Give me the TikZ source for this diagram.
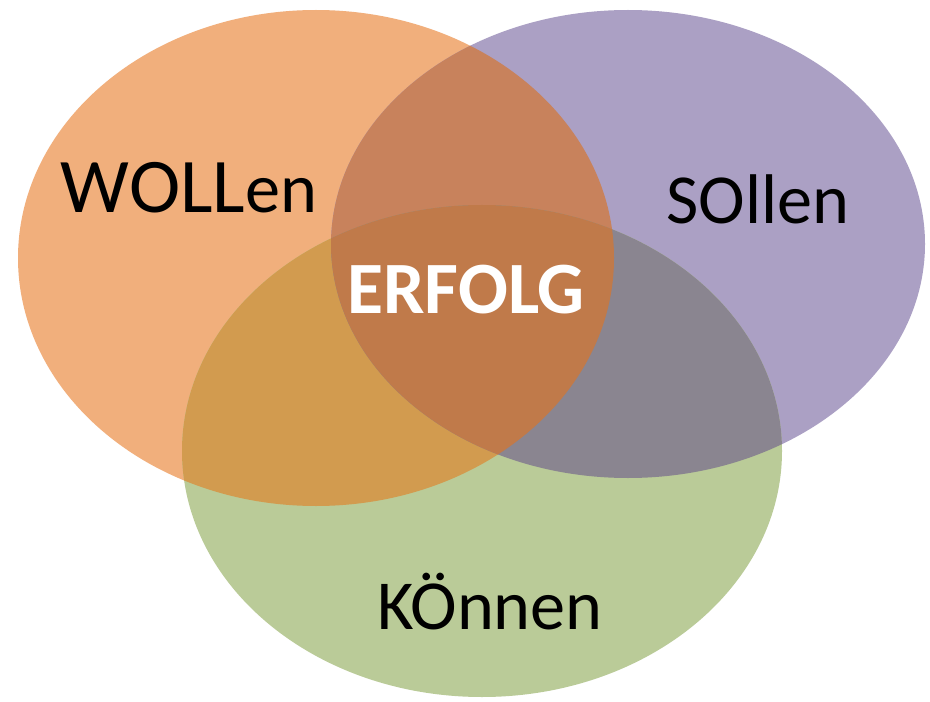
\documentclass[tikz,border=0pt]{standalone}
\usepackage{fontspec}
\setmainfont{Carlito}
\definecolor{wollen}{HTML}{F1AF7C}
\definecolor{sollen}{HTML}{ABA0C4}
\definecolor{koennen}{HTML}{BACB98}
\definecolor{wollsoll}{HTML}{C8825C}
\definecolor{wollkoenn}{HTML}{D29B4F}
\definecolor{sollkoenn}{HTML}{8A8590}
\definecolor{erfolg}{HTML}{C07A4A}
\tikzset{
  label/.style={font=\fontsize{40}{40}\selectfont, anchor=base, inner sep=0pt},
}
\begin{document}
\begin{tikzpicture}[x=0.02cm,y=0.02cm]
\useasboundingbox (0,0) rectangle (930,701);
\fill[white] (0,0) rectangle (930,701);
% the three sets
\fill[wollen] (316,443) ellipse [x radius=298, y radius=248];
\fill[sollen] (628,457) ellipse [x radius=297, y radius=234];
\fill[koennen] (482,250) ellipse [x radius=300, y radius=246];
% overlaps
\begin{scope}
\clip (316,443) ellipse [x radius=298, y radius=248];
\fill[wollsoll] (628,457) ellipse [x radius=297, y radius=234];
\fill[wollkoenn] (482,250) ellipse [x radius=300, y radius=246];
\end{scope}
\begin{scope}
\clip (628,457) ellipse [x radius=297, y radius=234];
\fill[sollkoenn] (482,250) ellipse [x radius=300, y radius=246];
\end{scope}
\begin{scope}
\clip (316,443) ellipse [x radius=298, y radius=248];
\clip (628,457) ellipse [x radius=297, y radius=234];
\fill[erfolg] (482,250) ellipse [x radius=300, y radius=246];
\end{scope}
% labels
\node[label, font=\fontsize{44}{44}\selectfont] (woll) at (189,488) {WOLL\fontsize{40}{40}\selectfont en};
\node[label] (soll) at (758,478) {SOllen};
\node[label] (koenn) at (490,72) {KÖnnen};
\node[label, font=\fontsize{42}{42}\selectfont\bfseries, text=white] (erfolg) at (466,388) {ERFOLG};
\end{tikzpicture}
\end{document}
